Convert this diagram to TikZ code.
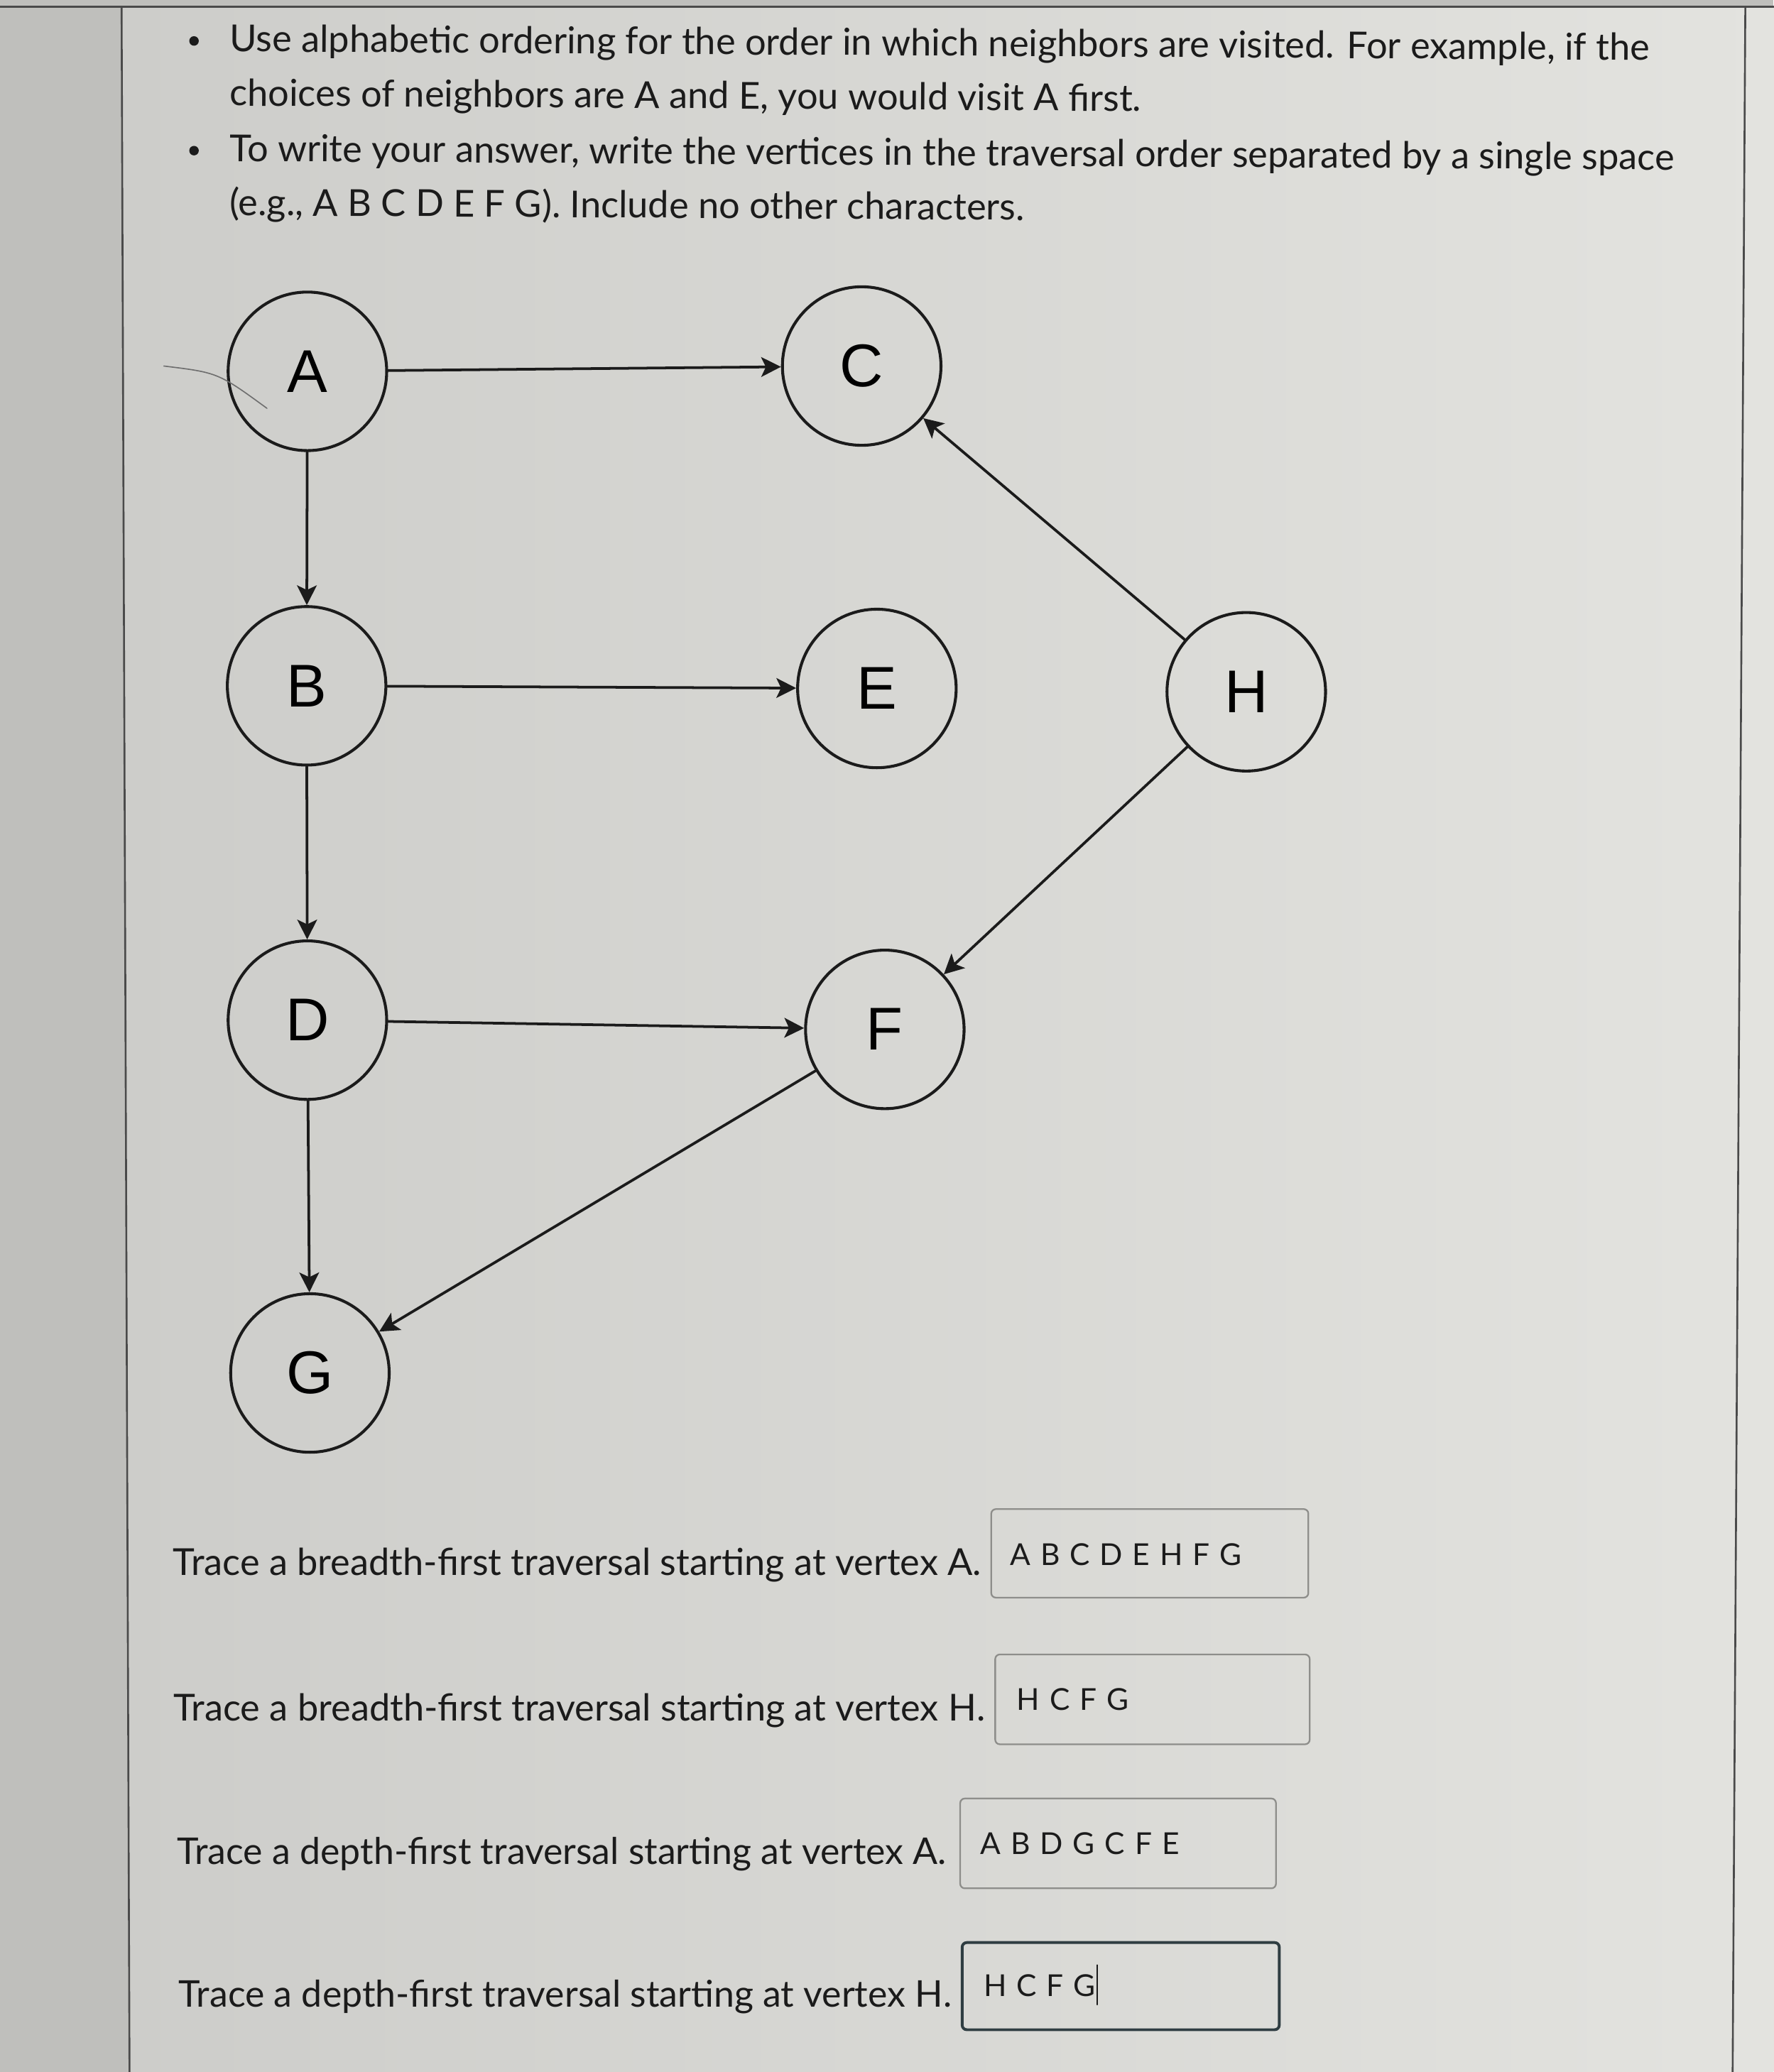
\documentclass[tikz,border=0pt]{standalone}
\usepackage{fontspec}
\setmainfont{Lato}
\newfontfamily\vertexfont{Liberation Sans}
\newfontfamily\answerfont[LetterSpace=7]{Lato}
\usetikzlibrary{arrows.meta}
\definecolor{qzink}{HTML}{1B1B1B}
\definecolor{qzstrip}{HTML}{BFBFBC}
\definecolor{qzpanelL}{HTML}{CDCDCA}
\definecolor{qzpanelR}{HTML}{E3E3DF}
\definecolor{qzrule}{HTML}{4A4A4A}
\definecolor{qzfield}{HTML}{8E8E8B}
\definecolor{qzfocus}{HTML}{2F3D42}
\definecolor{qzhair}{HTML}{6E6E6E}

\begin{document}
\begin{tikzpicture}[x=0.02cm,y=-0.02cm,line cap=round,
    vertex/.style={circle,draw=qzink,line width=1.25pt,minimum size=2.4cm,inner sep=0pt,
      font=\vertexfont\fontsize{26}{30}\selectfont},
    link/.style={qzink,line width=1.15pt,-{Stealth[length=8.5pt,width=8.5pt,inset=2pt]}},
    textline/.style={anchor=base west,inner sep=0pt,text=qzink,font=\fontsize{16}{19}\selectfont},
    answer/.style={anchor=base west,inner sep=0pt,text=qzink,font=\answerfont\fontsize{13}{16}\selectfont},
    field/.style={draw=qzfield,rounded corners=2pt,line width=0.7pt,minimum width=4.8cm,
      minimum height=1.34cm,inner sep=0pt}]
  \useasboundingbox (0,0) rectangle (1342,1568);
  \fill[qzstrip] (0,0) rectangle (1342,1568);
  \shade[left color=qzpanelL,right color=qzpanelR] (92,5) -- (1342,5) -- (1342,1568) -- (98,1568) -- cycle;
  \draw[qzrule,line width=0.8pt] (0,5) -- (1342,5);
  \draw[qzrule,line width=0.8pt] (92,5) -- (98,1568);
  \draw[qzrule,line width=0.8pt] (1320.6,5) -- (1311,1568);

  \fill[qzink] (146.8,31) circle (3.6);
  \node[textline,rotate=-0.35] (l1) at (173.5,39) {Use alphabetic ordering for the order in which neighbors are visited. For example, if the};
  \node[textline,rotate=-0.35] (l2) at (173.5,80) {choices of neighbors are A and E, you would visit A first.};
  \fill[qzink] (146.8,114) circle (3.6);
  \node[textline,rotate=-0.35] (l3) at (173.5,122) {To write your answer, write the vertices in the traversal order separated by a single space};
  \node[textline,rotate=-0.35] (l4) at (173.5,163) {(e.g., A B C D E F G). Include no other characters.};

  \node[vertex] (A) at (232.6,281) {A};
  \node[vertex] (C) at (652,277) {C};
  \node[vertex] (B) at (232,519) {B};
  \node[vertex] (E) at (663.5,521) {E};
  \node[vertex] (H) at (943,523.5) {H};
  \node[vertex] (D) at (232.6,772) {D};
  \node[vertex] (F) at (669.5,779) {F};
  \node[vertex] (G) at (234.5,1039) {G};
  \draw[qzhair,line width=0.5pt] (124,277) .. controls (165,282) .. (202,309);

  \draw[link] (A) -- (C);
  \draw[link] (A) -- (B);
  \draw[link] (B) -- (E);
  \draw[link] (B) -- (D);
  \draw[link] (D) -- (F);
  \draw[link] (D) -- (G);
  \draw[link] (F) -- (G);
  \draw[link] (H) -- (C);
  \draw[link] (H) -- (F);

  \node[textline] (q1) at (130.7,1192) {Trace a breadth-first traversal starting at vertex A.};
  \node[field] (f1) at (870,1175.5) {};
  \node[answer] (a1) at (764,1184.5) {A B C D E H F G};
  \node[textline] (q2) at (131,1302) {Trace a breadth-first traversal starting at vertex H.};
  \node[field,minimum width=4.76cm,minimum height=1.36cm] (f2) at (872,1286) {};
  \node[answer] (a2) at (769,1294) {H C F G};
  \node[textline,font=\fontsize{15.85}{19}\selectfont] (q3) at (133.6,1411) {Trace a depth-first traversal starting at vertex A.};
  \node[field,minimum width=4.78cm,minimum height=1.36cm] (f3) at (846,1395) {};
  \node[answer] (a3) at (741.6,1403.5) {A B D G C F E};
  \node[textline,font=\fontsize{15.85}{19}\selectfont] (q4) at (135,1519) {Trace a depth-first traversal starting at vertex H.};
  \node[field,draw=qzfocus,line width=1.2pt,minimum height=1.32cm] (f4) at (848,1503) {};
  \node[answer] (a4) at (744,1511) {H C F G};
  \draw[qzink,line width=0.6pt] (830,1487) -- (830,1517);
\end{tikzpicture}
\end{document}
